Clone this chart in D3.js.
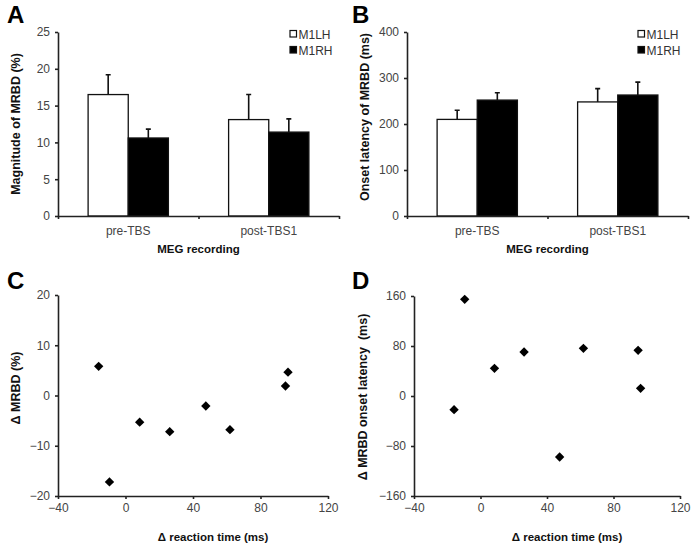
<!DOCTYPE html>
<meta charset="utf-8">
<style>
body { margin: 0; background: #fff; }
svg { font-family: "Liberation Sans", Arial, sans-serif; }
.tick text { fill: #444; font-size: 12px; }
.axis path, .axis line { stroke: #222; stroke-width: 1.6; }
.title { font-weight: bold; font-size: 11.5px; fill: #111; }
.ytitle { font-weight: bold; font-size: 12.5px; fill: #111; }
.letter { font-weight: bold; font-size: 24px; fill: #000; }
</style>
<svg width="693" height="548"></svg>
<script src="https://cdn.jsdelivr.net/npm/d3@7"></script>
<script>

var groups = ["pre-TBS", "post-TBS1"],
    series = ["M1LH", "M1RH"];

// panel A: magnitude of MRBD (%)
var magMean = [[16.5, 10.6], [13.1, 11.4]],
    magErr  = [[2.7, 1.2], [3.4, 1.8]];

// panel B: onset latency (ms)
var latMean = [[210, 252], [248, 263]],
    latErr  = [[20, 16], [29, 28]];

// panels C, D
var dRT      = [-15.9, -9.5, 8.4, 26.2, 47.6, 61.9, 94.8, 96.3],
    dMRBD    = [5.8, -17.2, -5.3, -7.2, -2.1, -6.8, 1.9, 4.65],
    dLatency = [-21.9, 154.7, 44.3, 70.4, -97.6, 76.3, 73.1, 12.3];

var svg = d3.select("svg");

function barPanel(opt) {
  var x0 = d3.scaleBand().domain(groups).range([opt.left, opt.right]).paddingInner(0).paddingOuter(0),
      x1 = d3.scaleBand().domain(series).range([0, x0.bandwidth()]).paddingOuter(0.75).paddingInner(0),
      y = d3.scaleLinear().domain(opt.domain).range([opt.bottom, opt.top]);

  var g = svg.append("g");

  var grp = g.selectAll(".grp")
    .data(groups)
    .enter().append("g")
      .attr("transform", function(d) { return "translate(" + x0(d) + ",0)"; });

  grp.selectAll("line.err")
    .data(function(d, i) { return series.map(function(s, j) { return {s: s, v: opt.mean[i][j], e: opt.err[i][j]}; }); })
    .enter().append("path")
      .attr("stroke", "#111")
      .attr("stroke-width", 1.6)
      .attr("fill", "none")
      .attr("d", function(d) {
        var cx = x1(d.s) + x1.bandwidth() / 2;
        return "M" + cx + "," + y(d.v) + "V" + y(d.v + d.e) + "M" + (cx - 2.5) + "," + y(d.v + d.e) + "H" + (cx + 2.5);
      });

  grp.selectAll("rect")
    .data(function(d, i) { return series.map(function(s, j) { return {s: s, v: opt.mean[i][j]}; }); })
    .enter().append("rect")
      .attr("x", function(d) { return x1(d.s); })
      .attr("width", x1.bandwidth())
      .attr("y", function(d) { return y(d.v); })
      .attr("height", function(d) { return y(0) - y(d.v); })
      .attr("fill", function(d) { return d.s === "M1LH" ? "#fff" : "#000"; })
      .attr("stroke", "#111")
      .attr("stroke-width", 1.3);

  g.append("g")
      .attr("class", "axis")
      .attr("transform", "translate(" + opt.left + ",0)")
      .call(d3.axisLeft(y).tickValues(opt.ticks).tickSize(3).tickSizeOuter(0).tickPadding(5));

  g.append("g")
      .attr("class", "axis")
      .attr("transform", "translate(0," + opt.bottom + ")")
      .call(d3.axisBottom(d3.scaleLinear().domain([0, 2]).range([opt.left, opt.right]))
        .tickValues([0, 1, 2]).tickSize(3).tickSizeOuter(0).tickFormat(""));

  g.selectAll(".cat")
    .data(groups)
    .enter().append("text")
      .attr("x", function(d) { return x0(d) + x0.bandwidth() / 2; })
      .attr("y", opt.bottom + 19)
      .attr("text-anchor", "middle")
      .attr("fill", "#444")
      .style("font-size", "12px")
      .text(function(d) { return d; });

  g.append("text")
      .attr("class", "title")
      .attr("x", (opt.left + opt.right) / 2)
      .attr("y", opt.bottom + 37)
      .attr("text-anchor", "middle")
      .text("MEG recording");

  g.append("text")
      .attr("class", "ytitle")
      .attr("transform", "translate(" + opt.ylx + "," + opt.yly + ") rotate(-90)")
      .attr("text-anchor", "middle")
      .text(opt.ylabel);

  var leg = g.selectAll(".leg")
    .data(series)
    .enter().append("g")
      .attr("transform", function(d, i) { return "translate(" + opt.legx + "," + (opt.legy + i * 16) + ")"; });

  leg.append("rect")
      .attr("x", 0).attr("y", -3.5)
      .attr("width", 6.5).attr("height", 6.5)
      .attr("fill", function(d) { return d === "M1LH" ? "#fff" : "#000"; })
      .attr("stroke", "#111").attr("stroke-width", 1.2);

  leg.append("text")
      .attr("x", 8.5).attr("y", 4.5)
      .attr("fill", "#333")
      .style("font-size", "12px")
      .text(function(d) { return d; });

  svg.append("text").attr("class", "letter").attr("x", opt.letx).attr("y", 23).text(opt.letter);
}

function scatterPanel(opt) {
  var x = d3.scaleLinear().domain([-40, 120]).range([opt.left, opt.right]),
      y = d3.scaleLinear().domain(opt.domain).range([opt.bottom, opt.top]);

  var g = svg.append("g");

  g.append("g")
      .attr("class", "axis")
      .attr("transform", "translate(" + opt.left + ",0)")
      .call(d3.axisLeft(y).tickValues(opt.ticks).tickSize(3).tickSizeOuter(0).tickPadding(5));

  g.append("g")
      .attr("class", "axis")
      .attr("transform", "translate(0," + opt.bottom + ")")
      .call(d3.axisBottom(x).tickValues([-40, 0, 40, 80, 120]).tickSize(3).tickSizeOuter(0).tickPadding(4));

  g.selectAll(".pt")
    .data(dRT)
    .enter().append("path")
      .attr("d", d3.symbol().type(d3.symbolDiamond2).size(56))
      .attr("transform", function(d, i) { return "translate(" + x(d) + "," + y(opt.values[i]) + ")"; })
      .attr("fill", "#000");

  g.append("text")
      .attr("class", "title")
      .attr("x", (opt.left + opt.right) / 2 + 20)
      .attr("y", opt.bottom + 45)
      .attr("text-anchor", "middle")
      .text("Δ reaction time (ms)");

  g.append("text")
      .attr("class", "ytitle")
      .attr("transform", "translate(" + opt.ylx + "," + opt.yly + ") rotate(-90)")
      .attr("text-anchor", "middle")
      .style("white-space", "pre")
      .text(opt.ylabel);

  svg.append("text").attr("class", "letter").attr("x", opt.letx).attr("y", 289).text(opt.letter);
}

barPanel({left: 58, right: 339, top: 32, bottom: 216, domain: [0, 25], ticks: [0, 5, 10, 15, 20, 25],
  mean: magMean, err: magErr, ylabel: "Magnitude of MRBD (%)", ylx: 20, yly: 124,
  legx: 290, legy: 34, letter: "A", letx: 7});

barPanel({left: 407, right: 688, top: 32, bottom: 216, domain: [0, 400], ticks: [0, 100, 200, 300, 400],
  mean: latMean, err: latErr, ylabel: "Onset latency of MRBD (ms)", ylx: 369, yly: 117,
  legx: 638, legy: 34, letter: "B", letx: 352});

scatterPanel({left: 58, right: 328, top: 295, bottom: 496, domain: [-20, 20], ticks: [-20, -10, 0, 10, 20],
  values: dMRBD, ylabel: "Δ MRBD (%)", ylx: 20, yly: 388, letter: "C", letx: 7});

scatterPanel({left: 414, right: 680, top: 296, bottom: 496, domain: [-160, 160], ticks: [-160, -80, 0, 80, 160],
  values: dLatency, ylabel: "Δ MRBD onset latency  (ms)", ylx: 367, yly: 397, letter: "D", letx: 352});

</script>
